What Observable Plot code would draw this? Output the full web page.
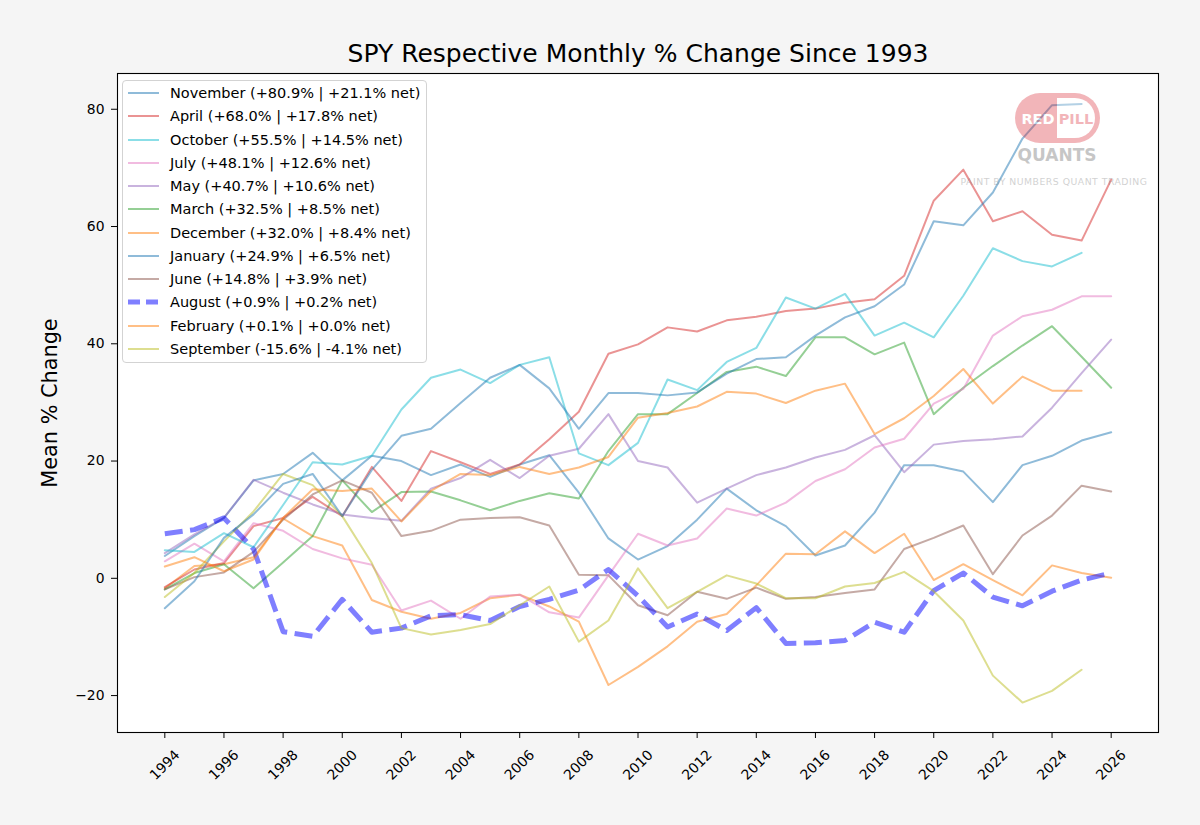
<!DOCTYPE html>
<html>
<head>
<meta charset="utf-8">
<script src="https://cdn.jsdelivr.net/npm/d3@7"></script>
<script src="https://cdn.jsdelivr.net/npm/@observablehq/plot@0.6"></script>
<style>
html, body { margin: 0; padding: 0; background: #f5f5f5; }
#wrap { position: relative; width: 1200px; height: 825px; font-family: "DejaVu Sans", sans-serif; }
#legend { position: absolute; left: 122px; top: 80px; width: 305px; height: 283px; background: rgba(255,255,255,0.8); border: 1px solid #d3d3d3; border-radius: 4px; box-sizing: border-box; }
.row { position: absolute; left: 0; height: 20px; display: flex; align-items: center; font-size: 14.5px; color: #000; white-space: nowrap; }
.row svg { margin-left: 5px; margin-right: 11px; }
#logo { position: absolute; left: 950px; top: 86px; opacity: 0.33; }
</style>
</head>
<body>
<div id="wrap"></div>
<script>
// ---- data ----
const years = [1994,1995,1996,1997,1998,1999,2000,2001,2002,2003,2004,2005,2006,2007,2008,2009,2010,
               2011,2012,2013,2014,2015,2016,2017,2018,2019,2020,2021,2022,2023,2024,2025,2026];
const xTicks = [1994,1996,1998,2000,2002,2004,2006,2008,2010,2012,2014,2016,2018,2020,2022,2024,2026];
const yTicks = [-20, 0, 20, 40, 60, 80];

const january  = [3.8,7.2,10.3,16.7,17.8,21.4,16.7,20.9,20.0,17.6,19.4,17.3,19.4,21.0,14.6,6.8,3.2,5.5,10.0,15.3,11.6,8.9,3.9,5.6,11.2,19.3,19.3,18.2,13.0,19.3,20.9,23.5,24.9];
const february = [-1.7,2.1,2.4,3.6,10.2,7.2,5.6,-3.7,-5.7,-6.9,-5.9,-3.4,-2.8,-4.8,-7.4,-18.2,-15.1,-11.6,-7.4,-6.1,-1.2,4.2,4.1,8.0,4.3,7.6,-0.3,2.4,-0.3,-2.9,2.2,0.9,0.1];
const march    = [-1.9,0.9,2.4,-1.7,2.7,7.2,16.7,11.3,14.7,14.8,13.3,11.6,13.2,14.5,13.6,21.7,28.0,28.0,31.6,35.2,36.1,34.5,41.1,41.1,38.2,40.2,28.0,32.5,36.2,39.7,43.0,37.8,32.5];
const april    = [-1.5,1.5,2.6,8.9,10.3,13.9,10.6,19.0,13.2,21.7,19.8,17.8,19.4,23.7,28.4,38.3,39.9,42.8,42.1,44.0,44.6,45.6,46.0,47.0,47.6,51.6,64.4,69.7,60.9,62.6,58.6,57.6,68.0];
const may      = [4.3,7.5,10.3,16.8,14.6,12.6,10.9,10.3,9.8,15.3,17.1,20.2,17.1,20.9,22.1,28.0,20.0,18.9,12.9,15.3,17.6,18.9,20.6,21.9,24.4,18.1,22.8,23.4,23.7,24.2,29.1,35.0,40.7];
const june     = [-1.9,0.2,1.0,4.5,10.0,14.3,16.7,14.6,7.2,8.1,10.0,10.3,10.4,9.0,0.6,0.5,-4.6,-6.3,-2.3,-3.5,-1.6,-3.5,-3.2,-2.5,-1.9,5.0,6.9,9.0,0.7,7.3,10.7,15.8,14.8];
const july     = [2.9,5.9,2.9,9.4,8.1,5.0,3.4,2.3,-5.5,-3.8,-6.9,-3.1,-2.8,-5.8,-6.7,0.5,7.6,5.6,6.8,11.9,10.7,12.9,16.6,18.6,22.3,23.8,29.8,32.3,41.4,44.7,45.8,48.1,48.1];
const august   = [7.6,8.3,10.3,5.0,-9.1,-9.9,-3.6,-9.2,-8.5,-6.4,-6.2,-7.2,-4.8,-3.6,-2.0,1.5,-3.0,-8.3,-6.1,-8.9,-5.0,-11.1,-11.0,-10.6,-7.5,-9.2,-2.1,0.9,-3.2,-4.7,-2.2,-0.3,0.9];
const september= [-3.2,0.9,6.3,11.4,17.8,15.9,10.6,2.6,-8.5,-9.6,-8.8,-7.8,-4.6,-1.4,-10.8,-7.2,1.7,-5.1,-2.3,0.5,-0.9,-3.4,-3.4,-1.4,-0.8,1.1,-2.2,-7.2,-16.6,-21.2,-19.2,-15.6];
const october  = [4.8,4.5,7.7,5.3,12.5,19.8,19.4,20.9,28.8,34.2,35.6,33.3,36.4,37.7,21.3,19.3,23.1,33.9,32.1,36.9,39.3,47.9,46.0,48.5,41.4,43.6,41.1,48.2,56.3,54.1,53.2,55.5];
const november = [-5.1,-0.5,6.9,10.9,16.1,17.8,10.6,18.5,24.3,25.5,29.9,34.2,36.4,32.4,25.5,31.6,31.6,31.2,31.7,34.9,37.4,37.7,41.4,44.5,46.4,50.1,60.9,60.2,65.8,75.0,80.7,80.9];
const december = [2.0,3.6,1.2,3.2,10.3,15.2,14.9,15.3,9.7,14.9,17.8,17.6,19.0,17.8,18.9,20.7,27.4,28.2,29.3,31.8,31.5,29.9,32.0,33.2,24.6,27.3,31.1,35.7,29.8,34.4,32.0,32.0];

const months = ["January","February","March","April","May","June","July","August","September","October","November","December"];
const seriesValues = [january,february,march,april,may,june,july,august,september,october,november,december];
const monthColors = ["#1f77b4","#ff7f0e","#2ca02c","#d62728","#9467bd","#8c564b","#e377c2","#0000ff","#bcbd22","#17becf","#1f77b4","#ff7f0e"];

const legendOrder = ["November","April","October","July","May","March","December","January","June","August","February","September"];
const legendLabels = [
  "November (+80.9% | +21.1% net)",
  "April (+68.0% | +17.8% net)",
  "October (+55.5% | +14.5% net)",
  "July (+48.1% | +12.6% net)",
  "May (+40.7% | +10.6% net)",
  "March (+32.5% | +8.5% net)",
  "December (+32.0% | +8.4% net)",
  "January (+24.9% | +6.5% net)",
  "June (+14.8% | +3.9% net)",
  "August (+0.9% | +0.2% net)",
  "February (+0.1% | +0.0% net)",
  "September (-15.6% | -4.1% net)"
];

const titleText = "SPY Respective Monthly % Change Since 1993";
const yLabelText = "Mean % Change";

// ---- build ----
const series = months.map((m, i) => ({
  month: m,
  color: monthColors[i],
  rows: seriesValues[i].map((v, j) => ({year: years[j], value: v}))
}));

const lineMarks = series.map(s => s.month === "August"
  ? Plot.line(s.rows, {x: "year", y: "value", stroke: s.color, strokeOpacity: 0.5, strokeWidth: 5,
      strokeDasharray: "18,7.5", strokeLinecap: "butt", strokeLinejoin: "round"})
  : Plot.line(s.rows, {x: "year", y: "value", stroke: s.color, strokeOpacity: 0.5, strokeWidth: 2}));

const fmt = d => d < 0 ? "\u2212" + Math.abs(d) : String(d);

const chart = Plot.plot({
  width: 1200,
  height: 825,
  marginLeft: 117,
  marginRight: 42,
  marginTop: 73,
  marginBottom: 93,
  style: {background: "#f5f5f5", fontFamily: "DejaVu Sans", color: "#000", overflow: "visible"},
  x: {domain: [1992.4, 2027.6]},
  y: {domain: [-26.3, 86.1]},
  marks: [
    Plot.frame({fill: "white", stroke: "#000", strokeWidth: 1.1}),
    ...lineMarks,
    Plot.axisY({ticks: yTicks, tickSize: 6, tickPadding: 7, fontSize: 13.9, tickFormat: fmt, label: null}),
    Plot.axisX({ticks: xTicks, tickSize: 6, tickFormat: () => "", label: null}),
    Plot.text(xTicks, {x: d => d, frameAnchor: "bottom", dy: 32.5, rotate: -45, text: d => String(d),
      fontSize: 13.9, textAnchor: "middle", lineAnchor: "middle"}),
    Plot.text([titleText], {frameAnchor: "top", dy: -20, fontSize: 25, text: d => d,
      textAnchor: "middle", lineAnchor: "middle"}),
    Plot.text([yLabelText], {frameAnchor: "left", dx: -67, rotate: -90, fontSize: 20.8, text: d => d,
      textAnchor: "middle", lineAnchor: "middle"})
  ]
});

const wrap = document.getElementById("wrap");
wrap.appendChild(chart);

// legend
const legend = document.createElement("div");
legend.id = "legend";
legendOrder.forEach((m, i) => {
  const s = series.find(d => d.month === m);
  const row = document.createElement("div");
  row.className = "row";
  row.style.top = (12 + i * 23.27 - 10) + "px";
  const isAug = m === "August";
  row.innerHTML = `<svg width="31" height="10"><line x1="0" x2="31" y1="5" y2="5" stroke="${s.color}" stroke-opacity="0.5"
     stroke-width="${isAug ? 5 : 2}" ${isAug ? 'stroke-dasharray="12,6"' : ''}/></svg><span>${legendLabels[i]}</span>`;
  legend.appendChild(row);
});
wrap.appendChild(legend);

// logo watermark
const logo = document.createElementNS("http://www.w3.org/2000/svg", "svg");
logo.setAttribute("id", "logo");
logo.setAttribute("width", "208");
logo.setAttribute("height", "104");
logo.innerHTML = `
  <rect x="65" y="7" width="85" height="50" rx="25" fill="#d8232f"/>
  <path d="M107,12 H125 A20,20 0 0 1 125,52 H107 Z" fill="#fff"/>
  <text x="88" y="37.5" text-anchor="middle" font-family="DejaVu Sans" font-weight="bold" font-size="14.5" fill="#fff">RED</text>
  <text x="126" y="37.5" text-anchor="middle" font-family="DejaVu Sans" font-weight="bold" font-size="14.5" fill="#d8232f">PILL</text>
  <text x="107" y="75" text-anchor="middle" font-family="DejaVu Sans" font-weight="bold" font-size="17" fill="#555">QUANTS</text>
  <text x="104" y="99" text-anchor="middle" font-family="DejaVu Sans" font-size="9.3" letter-spacing="0.5" fill="#777">PAINT BY NUMBERS QUANT TRADING</text>`;
wrap.appendChild(logo);
</script>
</body>
</html>
